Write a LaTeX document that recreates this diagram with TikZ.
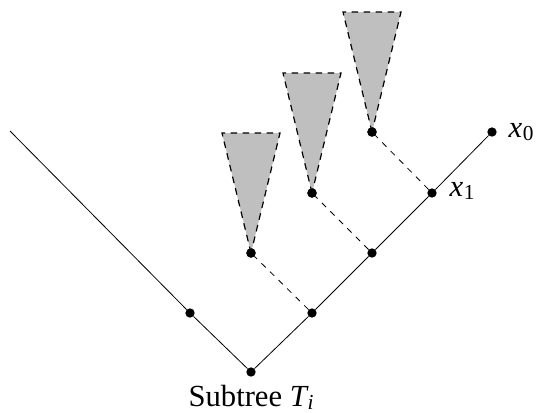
\documentclass[tikz,border=0pt]{standalone}
\usepackage{fontspec}
\setmainfont{Liberation Serif}
\newcommand{\varlab}[2]{{\itshape #1}\kern0.02em\raisebox{-0.22ex}{\fontsize{16}{18}\selectfont #2}}
\begin{document}
\begin{tikzpicture}[x=0.75pt,y=-0.75pt,
  dotn/.style={circle,fill=black,inner sep=0pt,minimum size=7pt},
  edge/.style={line width=0.6pt},
  dedge/.style={line width=0.6pt,dash pattern=on 4.5pt off 4.5pt},
  tri/.style={fill=black!25,line width=0.9pt,dash pattern=on 5pt off 4pt},
  lab/.style={font=\fontsize{23}{26}\selectfont}]
\useasboundingbox (0,0) rectangle (538,412);
\coordinate (L) at (10,131);
\node[dotn] (r) at (251,372) {};
\node[dotn] (a) at (190,313) {};
\node[dotn] (b) at (312,313) {};
\node[dotn] (c) at (372,253) {};
\node[dotn] (d) at (432,193) {};
\node[dotn] (e) at (492,132) {};
\node[dotn] (t1) at (251,253) {};
\node[dotn] (t2) at (312,193) {};
\node[dotn] (t3) at (372,132) {};
\coordinate (t1l) at (222,133); \coordinate (t1r) at (280,133);
\coordinate (t2l) at (283,73);  \coordinate (t2r) at (341,73);
\coordinate (t3l) at (343,12);  \coordinate (t3r) at (401,12);
\fill[black!25] (t1.center) -- (t1l) -- (t1r) -- cycle;
\fill[black!25] (t2.center) -- (t2l) -- (t2r) -- cycle;
\fill[black!25] (t3.center) -- (t3l) -- (t3r) -- cycle;
\draw[tri,fill=none] (t1.center) -- (t1l) -- (t1r) -- cycle;
\draw[tri,fill=none] (t2.center) -- (t2l) -- (t2r) -- cycle;
\draw[tri,fill=none] (t3.center) -- (t3l) -- (t3r) -- cycle;
\draw[edge] (L) -- (a) -- (r) -- (b) -- (c) -- (d) -- (e);
\draw[dedge] (b) -- (t1);
\draw[dedge] (c) -- (t2);
\draw[dedge] (d) -- (t3);
\node[dotn] at (t1) {};
\node[dotn] at (t2) {};
\node[dotn] at (t3) {};
\node[lab,anchor=west] (x0) at (504,132) {\varlab{x}{0}};
\node[lab,anchor=west] (x1) at (445,191) {\varlab{x}{1}};
\node[lab] (st) at (251,397) {Subtree \varlab{T}{\itshape i}};
\end{tikzpicture}
\end{document}
